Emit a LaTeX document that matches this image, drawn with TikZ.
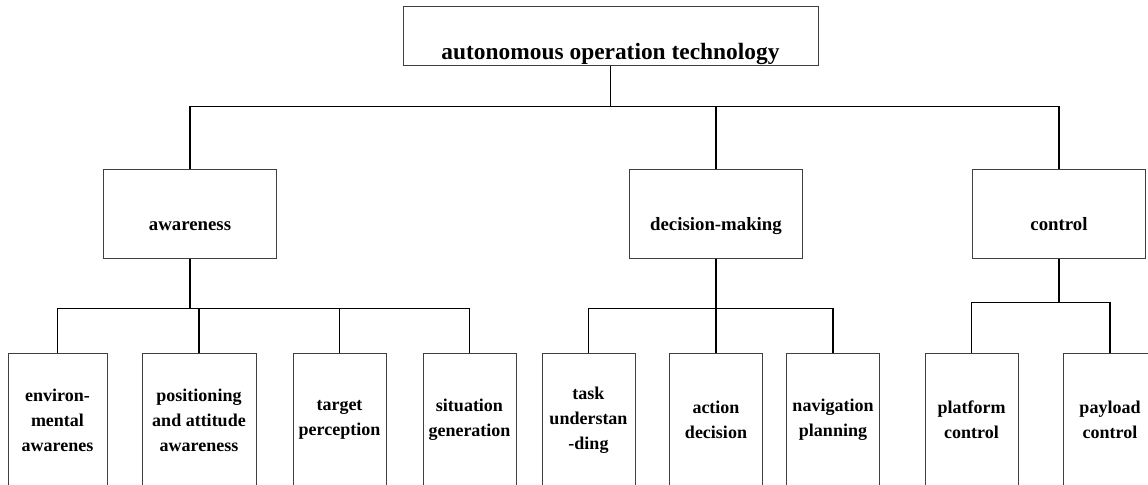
\documentclass[tikz,border=0pt]{standalone}
\usepackage{fontspec}
\setmainfont{Liberation Serif}
\usepackage{tikz}
\tikzset{box/.style={draw=black!75, line width=0.5pt, rectangle, inner sep=0pt},
 rootbox/.style={box, minimum width=207.5pt, minimum height=29.5pt,
  text height=24pt, text depth=0pt, font=\bfseries\fontsize{11.7}{14}\selectfont},
 midbox/.style={box, minimum width=86.5pt, minimum height=44.5pt,
  text height=17pt, text depth=0pt, font=\bfseries\fontsize{9.4}{11}\selectfont},
 leafbox/.style={box, minimum width=46.5pt, minimum height=67pt, align=center,
  font=\bfseries\fontsize{9}{12.5}\selectfont},
 link/.style={draw=black, line width=0.8pt},
 }

\begin{document}
\begin{tikzpicture}[x=0.5pt, y=-0.5pt]
        \path[use as bounding box, clip] (0,0) rectangle (1148,484);
        \node[rootbox] (root) at (610.5, 35.5) {autonomous operation technology};
        \node[midbox] (aw) at (190, 213.5) {awareness};
        \node[midbox] (dm) at (716, 213.5) {decision-making};
        \node[midbox] (ct) at (1059, 213.5) {control};
        \node[leafbox, minimum width=49.5pt] (env) at (57.5, 420) {environ-\\mental\\awarenes};
        \node[leafbox, minimum width=57pt] (pos) at (199, 420) {positioning\\and attitude\\awareness};
        \node[leafbox] (tgt) at (339.5, 420) {target\\perception};
        \node[leafbox] (sit) at (469.5, 420) {situation\\generation};
        \node[leafbox] (task) at (588.5, 420) {task\\understan\\-ding};
        \node[leafbox] (act) at (716, 420) {action\\decision};
        \node[leafbox] (nav) at (833, 420) {navigation\\planning};
        \node[leafbox] (plat) at (971.5, 420) {platform\\control};
        \node[leafbox] (pay) at (1110, 420) {payload\\control};
        \foreach \c in {aw, dm, ct} {
            \draw[link] (root.south) -- ++(0, 41) -| (\c.north);
        }
        \foreach \c in {env, pos, tgt, sit} {
            \draw[link] (aw.south) -- ++(0, 50) -| (\c.north);
        }
        \foreach \c in {task, act, nav} {
            \draw[link] (dm.south) -- ++(0, 50) -| (\c.north);
        }
        \foreach \c in {plat, pay} {
            \draw[link] (ct.south) -- ++(0, 44) -| (\c.north);
        }
    \end{tikzpicture}
\end{document}
